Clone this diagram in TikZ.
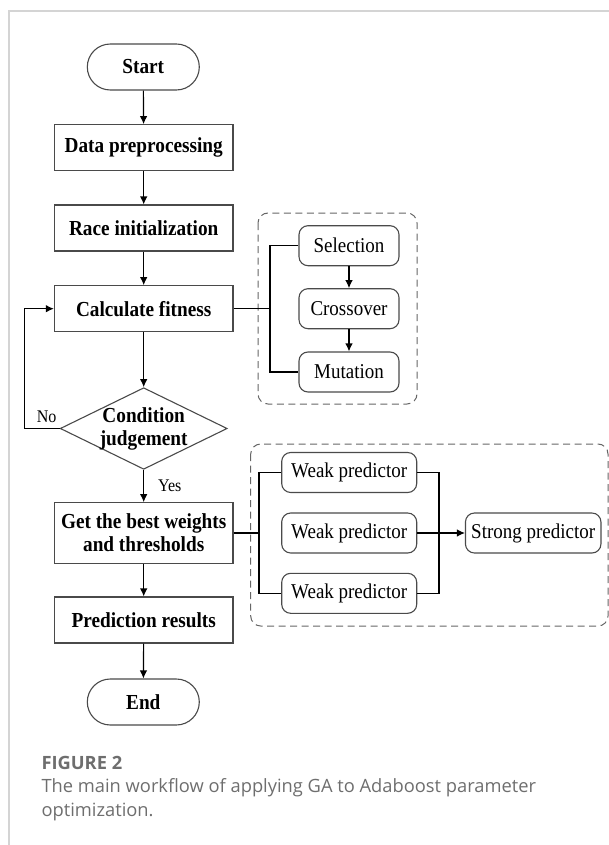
\documentclass[tikz,border=0pt]{standalone}
\usepackage{fontspec}
\setmainfont{Liberation Serif}[FakeStretch=0.9]
\newfontfamily\capfont{Open Sans}
\usetikzlibrary{shapes,arrows.meta}
\definecolor{linegray}{HTML}{4A4A4A}
\definecolor{dashgray}{HTML}{666666}
\definecolor{framegray}{HTML}{D4D4D4}
\definecolor{capgray}{HTML}{6E6E6E}

\begin{document}
\begin{tikzpicture}[x=1pt,y=-1pt,line width=1.1pt,>={Latex[length=8pt,width=7.5pt]},
  proc/.style={draw=linegray,rectangle,minimum width=178.6pt,minimum height=46pt,inner sep=0pt,align=center,font=\fontsize{21.4}{23.3}\selectfont\bfseries},
  term/.style={proc,minimum width=112pt,rounded corners=23pt},
  cond/.style={draw=linegray,diamond,aspect=2.05,minimum width=167pt,minimum height=81.6pt,inner sep=-5pt,align=center,font=\fontsize{21.4}{23}\selectfont\bfseries},
  sub/.style={draw=linegray,rounded corners=9pt,minimum width=100pt,minimum height=40pt,inner sep=0pt,font=\fontsize{21.1}{23}\selectfont},
  lab/.style={font=\fontsize{17.8}{19}\selectfont},
  group/.style={draw=dashgray,dash pattern=on 7pt off 4.5pt,rounded corners=10pt,line width=1pt},
  captext/.style={anchor=west,text=capgray,inner sep=0pt,font=\capfont\fontsize{18.3}{20}\selectfont}]
 \useasboundingbox (0,0) rectangle (609,845);
 \draw[framegray,line width=1.5pt] (9,845) -- (9,11) -- (609,11);

 \node[term] (A) at(143.3,67) {Start};
 \node[proc] (B) at(143.7,147.7) {Data preprocessing};
 \node[proc] (C) at(143.7,228) {Race initialization};
 \node[proc] (D) at(143.7,308.7) {Calculate fitness};
 \node[cond] (E) at(143.7,428.5) {Condition\\judgement};
 \node[proc,minimum height=60.6pt] (F) at(143.7,533) {Get the best weights\\and thresholds};
 \node[proc] (G) at(143.7,620) {Prediction results};
 \node[term] (H) at(143.3,702) {End};

 \draw[->] (A) -- (B);
 \draw[->] (B) -- (C);
 \draw[->] (C) -- (D);
 \draw[->] (D) -- (E);
 \draw[->] (E) -- (F);
 \draw[->] (F) -- (G);
 \draw[->] (G) -- (H);

 \coordinate (L) at(24.5,428.5);
 \draw[->] (E.west) -- (L) |- (D.west);
 \node[lab] (no) at(46.6,417) {No};
 \node[lab] (yes) at(169.7,486) {Yes};

% GA operators
 \draw[group] (258,213) rectangle (417,404);
 \node[sub] (S1) at(349,245.7) {Selection};
 \node[sub] (S2) at(349,308.7) {Crossover};
 \node[sub] (S3) at(349,372) {Mutation};
 \draw[->] (S1) -- (S2);
 \draw[->] (S2) -- (S3);
 \coordinate (P) at(270,308.7);
 \draw (D) -- (P);
 \draw (S1.west) -| (P) |- (S3.west);

% Adaboost
 \draw[group] (250.7,444) rectangle (608,626);
 \node[sub,minimum width=135pt] (W1) at(349.2,472.5) {Weak predictor};
 \node[sub,minimum width=135pt] (W2) at(349.2,533) {Weak predictor};
 \node[sub,minimum width=135pt] (W3) at(349.2,593.3) {Weak predictor};
 \node[sub,minimum width=135.5pt] (K) at(533.2,533) {Strong predictor};
 \coordinate (Q) at(259,533);
 \coordinate (R) at(439,533);
 \draw (F) -- (Q);
 \draw (W1.west) -| (Q) |- (W3.west);
 \draw (W1.east) -| (R) |- (W3.east);
 \draw[->] (W2) -- (K);

 \node[captext,font=\capfont\bfseries\fontsize{18.3}{20}\selectfont] (fig) at(41,763) {FIGURE 2};
 \node[captext] (cap1) at(41,788) {The main workflow of applying GA to Adaboost parameter};
 \node[captext] (cap2) at(41,811.7) {optimization.};
\end{tikzpicture}
\end{document}
